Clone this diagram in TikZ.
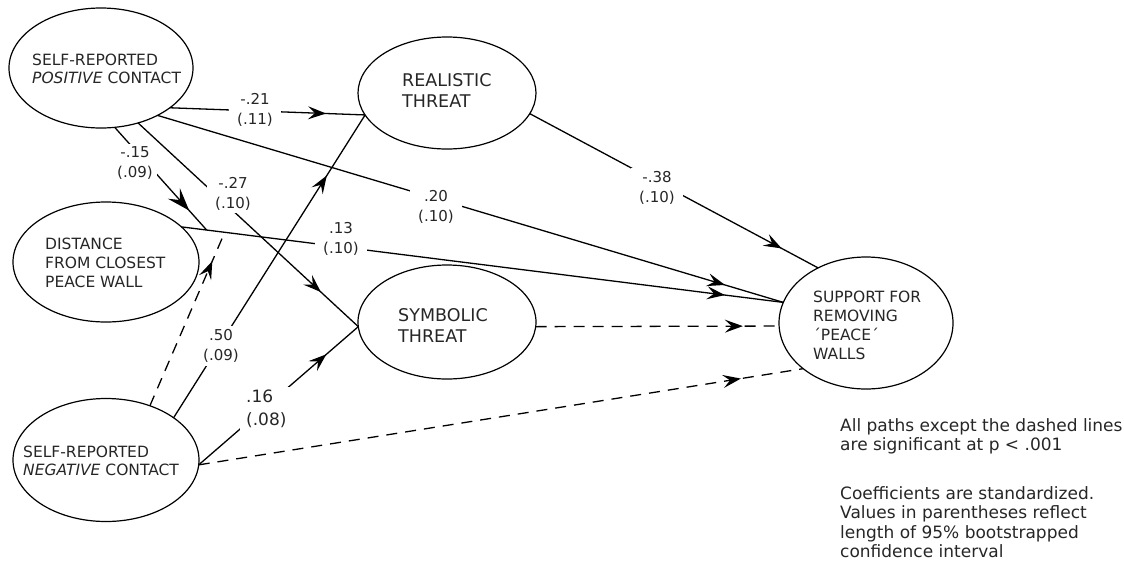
\documentclass[tikz,border=0pt]{standalone}
\usepackage{fontspec}
\setmainfont{DejaVu Sans}
\usetikzlibrary{arrows.meta,decorations.markings,calc,shapes.geometric}
\definecolor{txt}{RGB}{38,38,38}
\tikzset{
  lat/.style={draw, ellipse, line width=1.2pt, inner sep=0pt, outer sep=0pt},
  ltext/.style={anchor=west, align=left, inner sep=0pt, text=txt},
  lbl/.style={fill=white, align=center, inner xsep=8pt, inner ysep=3pt, text=txt,
    font=\fontsize{15}{20}\selectfont},
  conn/.style={line width=1.3pt},
  dconn/.style={line width=1.3pt, dash pattern=on 11pt off 8pt},
  tipA/.tip={Stealth[length=18pt,width=13pt,inset=7pt]},
  tipB/.tip={Stealth[length=23pt,width=16pt,inset=9pt]},
  midarrow/.style={postaction={decorate}, decoration={markings,
    mark=at position #1 with {\arrow{tipA}}}},
  bigarrow/.style={postaction={decorate}, decoration={markings,
    mark=at position #1 with {\arrow{tipB}}}},
}
\begin{document}
\begin{tikzpicture}[x=1pt,y=-1pt]
\useasboundingbox (0,0) rectangle (1124,563);
% latent variables
\node[lat, minimum width=184pt, minimum height=120pt] (pos) at (101,68) {};
\node[lat, minimum width=178pt, minimum height=112pt] (real) at (447,93) {};
\node[lat, minimum width=186pt, minimum height=120pt] (dist) at (106,262) {};
\node[lat, minimum width=178pt, minimum height=114pt] (symb) at (447,322) {};
\node[lat, minimum width=186pt, minimum height=123pt] (neg) at (106,460) {};
\node[lat, minimum width=174pt, minimum height=132pt] (sup) at (866,323) {};
% texts
\node[ltext, font=\fontsize{15.5}{18}\selectfont] (posT) at (32,69) {SELF-REPORTED\\\textit{POSITIVE} CONTACT};
\node[ltext, font=\fontsize{17.5}{21}\selectfont] (realT) at (402,91) {REALISTIC\\THREAT};
\node[ltext, font=\fontsize{15.5}{19}\selectfont] (distT) at (45,262.5) {DISTANCE\\FROM CLOSEST\\PEACE WALL};
\node[ltext, font=\fontsize{17.5}{21}\selectfont] (symbT) at (398,325) {SYMBOLIC\\THREAT};
\node[ltext, font=\fontsize{15.5}{18}\selectfont] (negT) at (23,460.5) {SELF-REPORTED\\\textit{NEGATIVE} CONTACT};
\node[ltext, font=\fontsize{15.5}{19}\selectfont] (supT) at (813,325.5) {SUPPORT FOR\\REMOVING\\´PEACE´\\WALLS};
% points on the distance -> support path
\coordinate (m1) at ($(dist.25)!0.042!(sup.166)$);
\coordinate (m2) at ($(dist.25)!0.072!(sup.166)$);
% connectors
\draw[conn, midarrow=0.8] (pos.-30) -- (real.195);
\draw[conn, midarrow=0.907] (pos.-40) -- (sup.166);
\draw[conn, midarrow=0.83] (pos.-56) -- (symb.183);
\draw[conn, bigarrow=0.81] (pos.-77) -- (m1);
\draw[conn, midarrow=0.874] (real.-14) -- (sup.131);
\draw[conn, midarrow=0.903] (dist.25) -- (sup.166);
\draw[dconn, midarrow=0.851] (symb.-3) -- (sup.182);
\draw[conn, midarrow=0.80] (neg.32) -- (real.195);
\draw[conn, midarrow=0.80] (neg.-3) -- (symb.183);
\draw[dconn, midarrow=0.897] (neg.-3) -- (sup.216);
\draw[dconn, midarrow=0.834] (neg.51) -- (m2);
% coefficient labels
\node[lbl] (l21) at (255,110) {-.21\\(.11)};
\node[lbl, inner xsep=4pt] (l15) at (135,163.5) {-.15\\(.09)};
\node[lbl] (l27) at (233,193.5) {-.27\\(.10)};
\node[lbl] (l20) at (436,207) {.20\\(.10)};
\node[lbl] (l13) at (341,238.5) {.13\\(.10)};
\node[lbl] (l38) at (657,187.5) {-.38\\(.10)};
\node[lbl] (l50) at (221,346) {.50\\(.09)};
\node[lbl, align=left, anchor=west, inner xsep=6pt, font=\fontsize{17}{23}\selectfont] (l16) at (240,408.5) {.16\\(.08)};
% notes
\node[anchor=north west, align=left, inner sep=0pt, text=txt, font=\fontsize{17}{19.5}\selectfont] (note1) at (840,418) {All paths except the dashed lines\\are significant at p < .001};
\node[anchor=north west, align=left, inner sep=0pt, text=txt, font=\fontsize{17}{19.5}\selectfont] (note2) at (840,486) {Coefficients are standardized.\\Values in parentheses reflect\\length of 95\% bootstrapped\\confidence interval};
\end{tikzpicture}
\end{document}
